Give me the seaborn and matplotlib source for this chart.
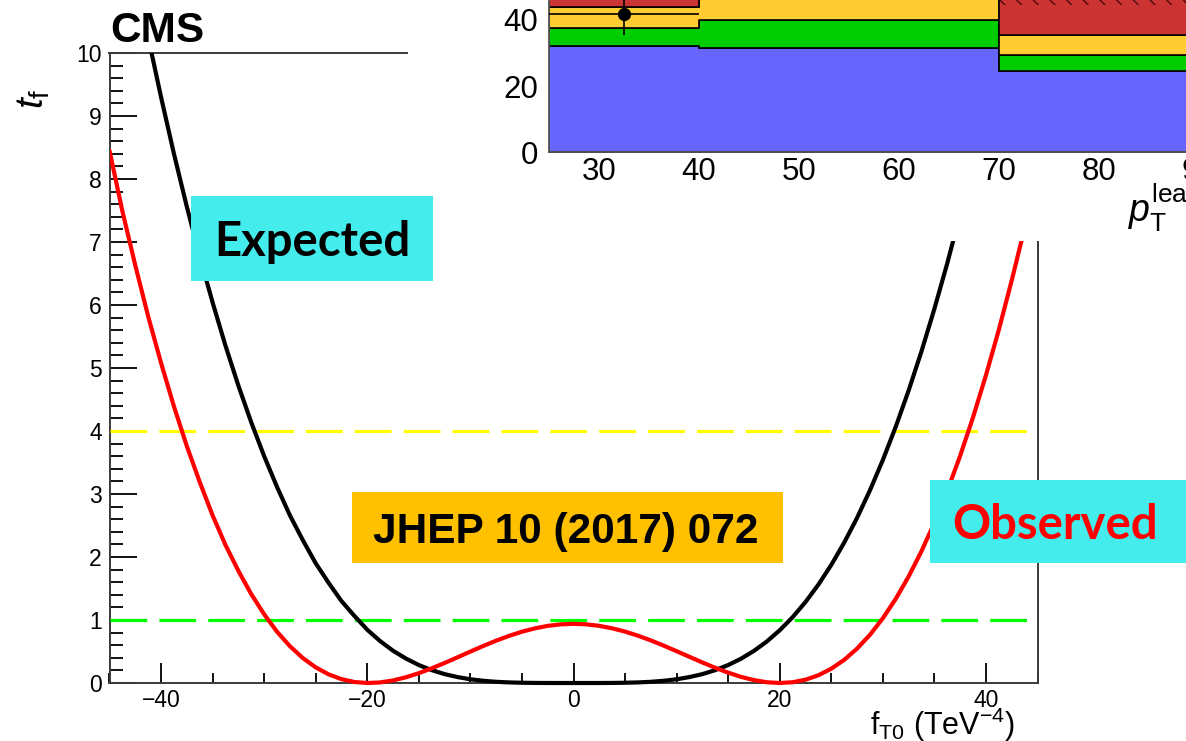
import numpy as np
import pandas as pd
import matplotlib
matplotlib.use("Agg")
import matplotlib.pyplot as plt
from matplotlib.patches import Rectangle
from matplotlib.ticker import MultipleLocator, FixedLocator
import seaborn as sns

# ---- likelihood scan of the f_T0 coupling -------------------------------
f_t0 = [-45, -43.75, -42.5, -41.25, -40, -38.75, -37.5, -36.25, -35, -33.75,
        -32.5, -31.25, -30, -28.75, -27.5, -26.25, -25, -23.75, -22.5, -21.25,
        -20, -18.75, -17.5, -16.25, -15, -13.75, -12.5, -11.25, -10, -8.75,
        -7.5, -6.25, -5, -3.75, -2.5, -1.25, 0,
        1.25, 2.5, 3.75, 5, 6.25, 7.5, 8.75, 10, 11.25, 12.5,
        13.75, 15, 16.25, 17.5, 18.75, 20, 21.25, 22.5, 23.75, 25,
        26.25, 27.5, 28.75, 30, 31.25, 32.5, 33.75, 35, 36.25, 37.5,
        38.75, 40, 41.25, 42.5, 43.75, 45]
t_expected = [13.4, 12.32, 11.25, 10.25, 9.30, 8.40, 7.56, 6.772, 6.04, 5.353,
              4.72, 4.136, 3.60, 3.111, 2.66, 2.267, 1.90, 1.59, 1.30, 1.065,
              0.845, 0.665, 0.512, 0.388, 0.285, 0.2043, 0.141, 0.0942, 0.059, 0.0353,
              0.019, 0.0094, 0.004, 0.0012, 0.0002, 0.0, 0.0,
              0.0, 0.0002, 0.0012, 0.004, 0.0094, 0.019, 0.0353, 0.059, 0.0942, 0.141,
              0.2043, 0.285, 0.3857, 0.510, 0.659, 0.837, 1.0446, 1.286, 1.5615, 1.875,
              2.2275, 2.621, 3.0581, 3.539, 4.0667, 4.642, 5.2653, 5.939, 6.6635, 7.44,
              8.2695, 9.15, 10.09, 11.08, 12.13, 13.23]
t_observed = [8.45, 7.49, 6.63, 5.82, 5.08, 4.39, 3.76, 3.19, 2.66, 2.19,
              1.78, 1.41, 1.09, 0.813, 0.584, 0.396, 0.248, 0.137, 0.061, 0.016,
              0.0, 0.009, 0.041, 0.091, 0.156, 0.233, 0.318, 0.408, 0.499, 0.588,
              0.672, 0.748, 0.814, 0.867, 0.907, 0.931, 0.939,
              0.931, 0.907, 0.868, 0.816, 0.751, 0.676, 0.593, 0.505, 0.415, 0.326,
              0.241, 0.164, 0.097, 0.046, 0.012, 0.0, 0.012, 0.052, 0.123, 0.227,
              0.367, 0.546, 0.765, 1.027, 1.335, 1.690, 2.092, 2.546, 3.050, 3.607,
              4.218, 4.885, 5.606, 6.39, 7.22, 8.10]
threshold_levels = [1.0, 4.0]
threshold_colors = ["#00ff00", "#ffff00"]

# ---- leading-jet pT distribution (stacked yields) ------------------------
pt_edges = [25, 40, 70, 90]
yield_ew = [32.2, 31.6, 24.5]
yield_qcd = [5.3, 8.4, 4.9]
yield_nonprompt = [6.3, 7.5, 6.1]
yield_other = [4.5, 3.0, 12.0]
stack_unc = [2.0, 3.0, 2.9]
data_pt = [32.5]
data_n = [41.9]
data_err = [6.5]

# ---- style ---------------------------------------------------------------
sns.set_style("ticks")
plt.rcParams["font.family"] = ["Liberation Sans", "DejaVu Sans"]
plt.rcParams["mathtext.fontset"] = "custom"
plt.rcParams["mathtext.rm"] = "Liberation Sans"
plt.rcParams["mathtext.it"] = "Liberation Sans:italic"
plt.rcParams["mathtext.bf"] = "Liberation Sans:bold"
plt.rcParams["hatch.linewidth"] = 1.0
for key in ("text.color", "axes.labelcolor", "xtick.color", "ytick.color",
            "xtick.labelcolor", "ytick.labelcolor"):
    plt.rcParams[key] = "black"

W, H = 1186, 741
fig = plt.figure(figsize=(W / 100, H / 100), dpi=100)
fig.patch.set_facecolor("white")


def fx(px):
    return px / W


def fy(py):
    return 1 - py / H


# ---- main scan panel -----------------------------------------------------
ax = fig.add_axes([fx(109.5), fy(683), (1037.5 - 109.5) / W, (683 - 53) / H])
ax.set_zorder(0)
ax.set_facecolor("white")

for lvl, col in zip(threshold_levels, threshold_colors):
    ax.axhline(lvl, xmin=0, xmax=0.995, color=col, lw=2.3,
               ls=(0, (11.5, 3.8)), zorder=3)

sns.lineplot(x=f_t0, y=t_expected, color="black", linewidth=3.0, ax=ax,
             zorder=4, sort=False)
sns.lineplot(x=f_t0, y=t_observed, color="#ff0000", linewidth=3.0, ax=ax,
             zorder=5, sort=False)
clip = Rectangle((0, -0.05), 1, 1.05, transform=ax.transAxes)
for ln in ax.lines[len(threshold_levels):]:
    ln.set_clip_path(clip)
    ln.set_solid_joinstyle("round")

ax.set_xlim(-45, 45)
ax.set_ylim(0, 10)
ax.xaxis.set_major_locator(FixedLocator([-40, -20, 0, 20, 40]))
ax.xaxis.set_minor_locator(MultipleLocator(5))
ax.yaxis.set_major_locator(MultipleLocator(1))
ax.yaxis.set_minor_locator(MultipleLocator(0.2))
ax.tick_params(axis="both", which="both", direction="in", top=False,
               right=False, color="black", labelcolor="black", width=1.3)
ax.tick_params(axis="y", which="major", length=19.5, pad=5.4, labelsize=16.5)
ax.tick_params(axis="y", which="minor", length=9.5)
ax.tick_params(axis="x", which="major", length=14.5, pad=4, labelsize=16.5)
ax.tick_params(axis="x", which="minor", length=7.5)
ax.set_xlabel("")
ax.set_ylabel("")
for s in ax.spines.values():
    s.set_color("#3a3a3a")
    s.set_linewidth(1.4)

# white backing for the distribution panel
fig.add_artist(Rectangle((fx(408), fy(241)), (W - 408) / W, 241 / H,
                         transform=fig.transFigure, facecolor="white",
                         edgecolor="none", zorder=1))

# ---- leading-jet pT panel ------------------------------------------------
axi = fig.add_axes([fx(549), fy(152), 650 / W, 198 / H])
axi.set_zorder(2)
axi.set_facecolor("white")

centers = [(a + b) / 2 for a, b in zip(pt_edges[:-1], pt_edges[1:])]
widths = [b - a for a, b in zip(pt_edges[:-1], pt_edges[1:])]
layers = {"WV EW": yield_ew, "WV QCD": yield_qcd,
          "nonprompt": yield_nonprompt, "other": yield_other}
rows = []
for name, vals in layers.items():
    for c, v in zip(centers, vals):
        rows.append({"pt": c, "n": v, "proc": name})
df = pd.DataFrame(rows)
palette = {"WV EW": "#6666ff", "WV QCD": "#00cc00",
           "nonprompt": "#ffcc33", "other": "#cc3333"}
sns.histplot(data=df, x="pt", weights="n", hue="proc",
             hue_order=["other", "nonprompt", "WV QCD", "WV EW"],
             multiple="stack", bins=pt_edges, element="step", fill=True,
             palette=palette, alpha=1, edgecolor="black", linewidth=1.2,
             legend=False, ax=axi)

total = [a + b + c + d for a, b, c, d in
         zip(yield_ew, yield_qcd, yield_nonprompt, yield_other)]
axi.bar(centers, [2 * u for u in stack_unc],
        bottom=[t - u for t, u in zip(total, stack_unc)], width=widths,
        fill=False, hatch="\\\\", edgecolor="#4d0d0d", linewidth=0, zorder=3)
axi.errorbar(data_pt, data_n, yerr=data_err, xerr=7.5, fmt="o",
             color="black", markersize=8.5, elinewidth=1.2, capsize=0,
             zorder=4)

axi.set_xlim(25, 90)
axi.set_ylim(0, 60)
axi.set_xticks([30, 40, 50, 60, 70, 80, 90])
axi.set_yticks([0, 20, 40, 60])
axi.tick_params(axis="both", which="both", direction="in", top=False,
                right=False, length=12, width=1.3, color="black",
                labelcolor="black", labelsize=22.5)
axi.tick_params(axis="x", pad=3.5)
axi.tick_params(axis="y", pad=8)
axi.set_xlabel("")
axi.set_ylabel("")
for s in axi.spines.values():
    s.set_color("#555555")
    s.set_linewidth(1.3)

fig.text(fx(1128), fy(221), r"$p_{\mathrm{T}}^{\mathrm{leading}}$",
         ha="left", va="baseline", fontsize=27, zorder=5)

# ---- annotations ---------------------------------------------------------
def label_box(x0, y0, x1, y1, color):
    fig.add_artist(Rectangle((fx(x0), fy(y1)), (x1 - x0) / W, (y1 - y0) / H,
                             transform=fig.transFigure, facecolor=color,
                             edgecolor="none", zorder=3))


label_box(191, 196, 433, 281, "#45ecec")
fig.text(fx(312), fy(256), "Expected", ha="center", va="baseline",
         fontsize=34, fontweight="bold", family=["Lato", "DejaVu Sans"],
         color="black", zorder=4)

label_box(352, 492, 783, 563, "#ffc000")
fig.text(fx(566), fy(543), "JHEP 10 (2017) 072", ha="center", va="baseline",
         fontsize=30.5, fontweight="bold", color="black", zorder=4)

label_box(930, 480, 1186, 563, "#45ecec")
fig.text(fx(1055), fy(539), "Observed", ha="center", va="baseline",
         fontsize=34, fontweight="bold", family=["Lato", "DejaVu Sans"],
         color="#ff0000", zorder=4)

fig.text(fx(110), fy(42), "CMS", ha="left", va="baseline", fontsize=30.5,
         fontweight="bold", color="black", zorder=4)
fig.text(fx(34), fy(99), r"$t_{\mathrm{f}}$", rotation=90, ha="center",
         va="center", fontsize=28, color="black", zorder=4)
fig.text(fx(1015), fy(735), r"f$_{\mathrm{T0}}$ (TeV$^{\mathrm{-4}}$)",
         ha="right", va="baseline", fontsize=22, color="black", zorder=4)

fig.savefig("out.png", dpi=100, facecolor="white")
